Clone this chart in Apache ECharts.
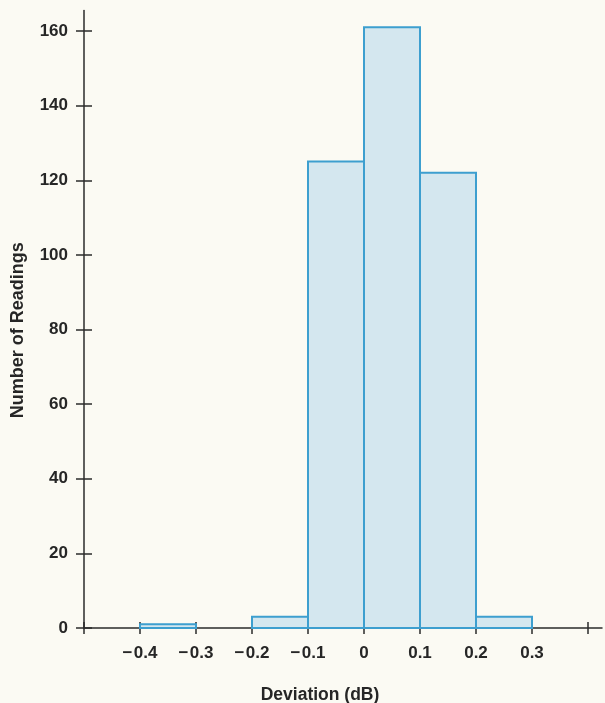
<!DOCTYPE html>
<html>
<head>
<meta charset="utf-8">
<script src="https://cdn.jsdelivr.net/npm/echarts@6/dist/echarts.min.js"></script>
<style>
html,body{margin:0;padding:0;background:#fbfaf3;}
#chart{width:605px;height:703px;}
</style>
</head>
<body>
<div id="chart"></div>
<script>
// Histogram bins (lower edge, dB), bin width, and counts
var binStarts = [-0.4, -0.2, -0.1, 0.0, 0.1, 0.2];
var binWidth = 0.1;
var counts = [1, 3, 125, 161, 122, 3];
var xTickValues = [-0.5, -0.4, -0.3, -0.2, -0.1, 0, 0.1, 0.2, 0.3, 0.4];
var xLabelValues = [-0.4, -0.3, -0.2, -0.1, 0, 0.1, 0.2, 0.3];
var yTickValues = [0, 20, 40, 60, 80, 100, 120, 140, 160];
var xTitle = 'Deviation (dB)';
var yTitle = 'Number of Readings';

var data = binStarts.map(function (s, i) { return [s, +(s + binWidth).toFixed(2), counts[i]]; });

var axisColor = '#2b2b2b';
var textColor = '#262626';
var font = '"Liberation Sans", Arial, sans-serif';

function fmtX(v) {
  var r = Math.round(v * 10) / 10;
  if (r === 0) return '0';
  var s = Math.abs(r).toFixed(1);
  return (r < 0 ? '\u2212\u200A' : '') + s;
}

var chart = echarts.init(document.getElementById('chart'), null, {renderer: 'canvas'});
chart.setOption({
  backgroundColor: '#fbfaf3',
  animation: false,
  grid: {left: 84, right: 3, top: 10.5, bottom: 75, containLabel: false, outerBoundsMode: 'none'},
  xAxis: [{
    type: 'value', min: -0.5, max: 0.425, interval: 0.1,
    axisLine: {show: true, onZero: false, lineStyle: {color: axisColor, width: 1.5}},
    axisTick: {show: true, length: 6, inside: false, customValues: xTickValues, lineStyle: {color: axisColor, width: 1.5}},
    axisLabel: {customValues: xLabelValues, formatter: fmtX, margin: 17, color: textColor, fontSize: 17, fontWeight: 'bold', fontFamily: font},
    splitLine: {show: false},
    name: xTitle, nameLocation: 'middle', nameGap: 58,
    nameTextStyle: {color: textColor, fontSize: 17.5, fontWeight: 'bold', fontFamily: font, padding: [0, 46, 0, 0]}
  }, {
    type: 'value', min: -0.5, max: 0.425, interval: 0.1, position: 'bottom',
    axisLine: {show: false, onZero: false},
    axisTick: {show: true, length: 6, inside: true, customValues: xTickValues, lineStyle: {color: axisColor, width: 1.5}},
    axisLabel: {show: false},
    splitLine: {show: false}
  }],
  yAxis: [{
    type: 'value', min: 0, max: 165.5, interval: 20,
    axisLine: {show: true, onZero: false, lineStyle: {color: axisColor, width: 1.5}},
    axisTick: {show: true, length: 8, inside: false, customValues: yTickValues, lineStyle: {color: axisColor, width: 1.5}},
    axisLabel: {customValues: yTickValues, margin: 16, color: textColor, fontSize: 17, fontWeight: 'bold', fontFamily: font},
    splitLine: {show: false},
    name: yTitle, nameLocation: 'middle', nameGap: 57,
    nameTextStyle: {color: textColor, fontSize: 18, fontWeight: 'bold', fontFamily: font, padding: [0, 22, 0, 0]}
  }, {
    type: 'value', min: 0, max: 165.5, interval: 20, position: 'left',
    axisLine: {show: false, onZero: false},
    axisTick: {show: true, length: 8, inside: true, customValues: yTickValues, lineStyle: {color: axisColor, width: 1.5}},
    axisLabel: {show: false},
    splitLine: {show: false}
  }],
  series: [{
    type: 'custom',
    xAxisIndex: 0, yAxisIndex: 0,
    data: data,
    encode: {x: [0, 1], y: 2},
    renderItem: function (params, api) {
      var p0 = api.coord([api.value(0), api.value(2)]);
      var p1 = api.coord([api.value(1), 0]);
      return {
        type: 'rect',
        shape: {x: p0[0], y: p0[1], width: p1[0] - p0[0], height: p1[1] - p0[1]},
        style: {fill: '#d4e7ef', stroke: '#3d9fcf', lineWidth: 2}
      };
    },
    z: 1
  }]
});
</script>
</body>
</html>
